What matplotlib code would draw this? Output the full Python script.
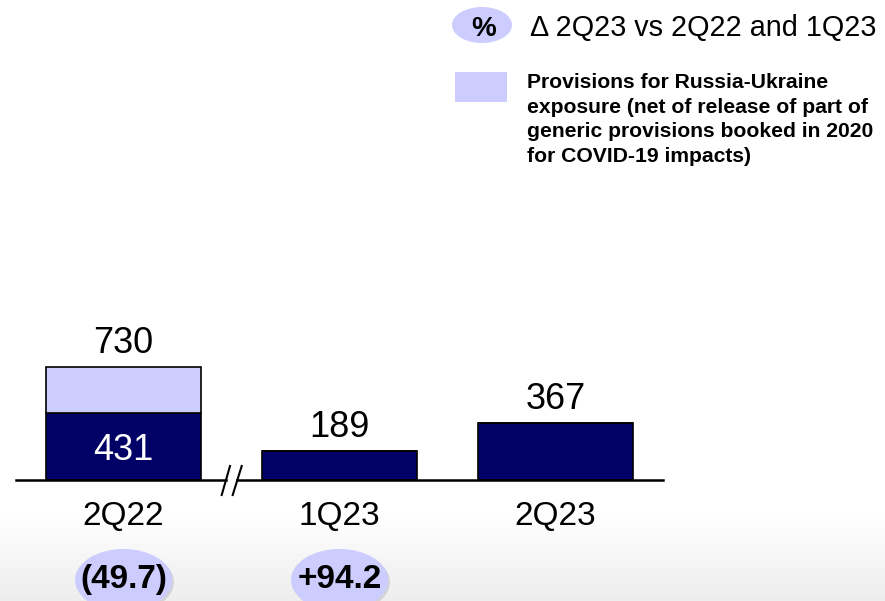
import numpy as np
import matplotlib
matplotlib.use("Agg")
import matplotlib.pyplot as plt
from matplotlib.patches import Ellipse, Rectangle

plt.rcParams['font.family'] = ['Liberation Sans', 'DejaVu Sans']

quarters = ['2Q22', '1Q23', '2Q23']
base = [431, 189, 367]
russia = [299, 0, 0]
deltas = ['(49.7)', '+94.2', None]
legend_text = ("Provisions for Russia-Ukraine\nexposure (net of release of part of\n"
               "generic provisions booked in 2020\nfor COVID-19 impacts)")
delta_title = "\u0394 2Q23 vs 2Q22 and 1Q23"

navy = '#000066'
lav = '#CCCCFF'

W, H = 885, 601
fig = plt.figure(figsize=(W / 100, H / 100), dpi=100)

# background with a soft gray fade at the bottom
bg = fig.add_axes([0, 0, 1, 1], zorder=0)
grad = np.ones((H, 1))
rows = np.arange(H)
grad[:, 0] = np.clip((rows - 515) / (H - 515), 0, 1)
col = 1 - grad * (1 - 0.93)
bg.imshow(np.dstack([col, col, col]), aspect='auto', extent=(0, W, H, 0))
bg.set_xlim(0, W)
bg.set_ylim(H, 0)
bg.axis('off')

# main chart axes, scaled so the bars land where the reference has them
ky = 113 / 730.0      # px per unit
kx = 216.0            # px per category
x0 = 123.5            # px of first category
base_px = 121         # baseline from bottom
ax = fig.add_axes([0, 0, 1, 1], zorder=1)
ax.patch.set_alpha(0)
ax.set_xlim(-x0 / kx, (W - x0) / kx)
ax.set_ylim(-base_px / ky, (H - base_px) / ky)
ax.axis('off')

x = np.arange(len(quarters))
bw = 155 / kx
ax.bar(x, base, bw, color=navy, edgecolor='black', linewidth=1.2, zorder=3)
ax.bar(x, russia, bw, bottom=base, color=lav, edgecolor='black', linewidth=1.2, zorder=3)

# baseline with a break between 2Q22 and 1Q23
ax.plot([-0.5, 0.474], [0, 0], color='black', lw=1.8, zorder=4)
ax.plot([0.526, 2.5], [0, 0], color='black', lw=1.8, zorder=4)

for i in range(len(quarters)):
    total = base[i] + russia[i]
    ax.annotate(str(total), (i, total), xytext=(0, 14), textcoords='offset pixels',
                ha='center', va='baseline', fontsize=26, color='black')
    if russia[i] > 0:
        ax.text(i, base[i] / 2, str(base[i]), ha='center', va='center_baseline',
                fontsize=26, color='white', zorder=5)
    ax.annotate(quarters[i], (i, 0), xytext=(0, -45), textcoords='offset pixels',
                ha='center', va='baseline', fontsize=24, color='black')
    if deltas[i]:
        cy = -100 / ky
        ax.add_patch(Ellipse((i + 2 / kx, cy - 2 / ky), 97 / kx, 62 / ky,
                             color='#b8b8c8', alpha=0.5, lw=0, zorder=2))
        ax.add_patch(Ellipse((i, cy), 97 / kx, 62 / ky, color=lav, lw=0, zorder=3))
        ax.annotate(deltas[i], (i, 0), xytext=(0, -96), textcoords='offset pixels',
                    ha='center', va='center_baseline', fontsize=24,
                    fontweight='bold', color='black', zorder=5)

# overlay in pixel coords for the legend and break marks
ov = fig.add_axes([0, 0, 1, 1], zorder=2)
ov.patch.set_alpha(0)
ov.set_xlim(0, W)
ov.set_ylim(H, 0)
ov.axis('off')

ov.plot([221.7, 230], [495, 466], color='black', lw=1.5)
ov.plot([232.7, 241.7], [495, 466], color='black', lw=1.5)

ov.add_patch(Ellipse((482, 25), 60, 36, color=lav, lw=0))
ov.text(484, 26, '%', ha='center', va='center_baseline', fontsize=20, fontweight='bold')
ov.text(530, 25, delta_title, ha='left', va='center_baseline', fontsize=20.7)

ov.add_patch(Rectangle((455, 72), 52, 30, color=lav, lw=0))
ov.text(527, 73, legend_text, ha='left', va='top', fontsize=15.2, fontweight='bold',
        linespacing=1.37)

fig.savefig('out.png', dpi=100)
